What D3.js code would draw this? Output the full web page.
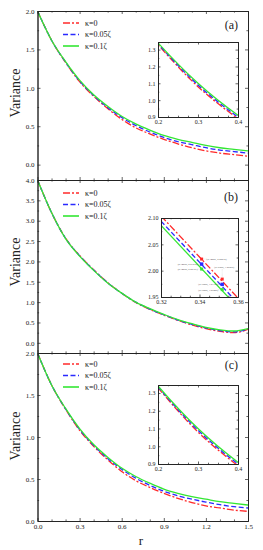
<!DOCTYPE html>
<html>
<head>
<meta charset="utf-8">
<script src="https://cdn.jsdelivr.net/npm/d3@7"></script>
<style>
  body { margin: 0; background: #fff; }
  svg { display: block; font-family: "Liberation Serif", "Times New Roman", serif; }
</style>
</head>
<body>
<svg id="chart"></svg>
<script>
const width = 263;
const height = 550;

// ---- data ----
const rVals = [0, 0.1, 0.2, 0.3, 0.4, 0.5, 0.6, 0.7, 0.8, 0.9, 1.0, 1.1, 1.2, 1.3, 1.4, 1.5];

// panel (a)
const varA_k0   = [2.00, 1.62, 1.33, 1.08, 0.89, 0.73, 0.59, 0.48, 0.40, 0.33, 0.27, 0.22, 0.18, 0.15, 0.13, 0.11];
const varA_k005 = [2.00, 1.62, 1.335, 1.09, 0.90, 0.745, 0.615, 0.51, 0.425, 0.355, 0.30, 0.26, 0.22, 0.19, 0.17, 0.15];
const varA_k01  = [2.00, 1.62, 1.34, 1.10, 0.91, 0.76, 0.63, 0.53, 0.45, 0.38, 0.33, 0.29, 0.25, 0.22, 0.20, 0.18];

// panel (b)
const varB_k0   = [4.00, 3.20, 2.57, 2.145, 1.795, 1.48, 1.22, 0.99, 0.82, 0.68, 0.55, 0.44, 0.35, 0.28, 0.25, 0.33];
const varB_k005 = [4.00, 3.20, 2.565, 2.14, 1.79, 1.475, 1.22, 1.00, 0.83, 0.69, 0.56, 0.455, 0.365, 0.30, 0.27, 0.34];
const varB_k01  = [4.00, 3.20, 2.56, 2.13, 1.78, 1.47, 1.22, 1.00, 0.84, 0.70, 0.57, 0.47, 0.38, 0.32, 0.29, 0.35];

// panel (c)
const varC_k0   = [2.00, 1.62, 1.33, 1.08, 0.89, 0.73, 0.59, 0.48, 0.40, 0.33, 0.27, 0.22, 0.18, 0.155, 0.13, 0.115];
const varC_k005 = [2.00, 1.62, 1.335, 1.09, 0.90, 0.745, 0.615, 0.51, 0.425, 0.355, 0.30, 0.26, 0.225, 0.195, 0.17, 0.155];
const varC_k01  = [2.00, 1.62, 1.34, 1.10, 0.91, 0.76, 0.63, 0.53, 0.45, 0.38, 0.33, 0.29, 0.26, 0.23, 0.21, 0.19];

// inset of (b): straight segments over r = 0.32 .. 0.36
const insetB_r    = [0.32, 0.36];
const insetB_k0   = [2.104, 1.948];
const insetB_k005 = [2.094, 1.938];
const insetB_k01  = [2.086, 1.930];

// marked points in inset (b)
const markR    = [0.3411, 0.3518];
const mark_k0   = [2.022, 1.984];
const mark_k005 = [2.0125, 1.974];
const mark_k01  = [2.003, 1.964];
const markText_k0   = ["(0.34085, 2.02214)", "(0.35085, 1.98265)"];
const markText_k005 = ["(0.34085, 2.01250)", "(0.35085, 1.97325)"];
const markText_k01  = ["(0.34085, 2.00301)", "(0.35085, 1.96425)"];

const xTicks = [0, 0.3, 0.6, 0.9, 1.2, 1.5];
const yTicksA = [0, 0.5, 1.0, 1.5, 2.0];
const yTicksB = [0, 0.5, 1.0, 1.5, 2.0, 2.5, 3.0, 3.5, 4.0];
const yTicksC = [0, 0.5, 1.0, 1.5, 2.0];
const insetTicksX = [0.2, 0.3, 0.4];
const insetTicksY = [0.9, 1.0, 1.1, 1.2, 1.3];
const insetBTicksX = [0.32, 0.34, 0.36];
const insetBTicksY = [1.95, 2.00, 2.05, 2.10];

const legendLabels = ["κ=0", "κ=0.05ζ", "κ=0.1ζ"];
const panelLabels = ["(a)", "(b)", "(c)"];

const colors = ["#ff2a2a", "#2a2aff", "#33e633"];
const dashes = ["7,2,2,2", "5,2.5", null];

const svg = d3.select("#chart")
  .attr("width", width)
  .attr("height", height)
  .attr("viewBox", [0, 0, width, height]);

const x = d3.scaleLinear([0, 1.5], [37.5, 248]);

const panels = [
  {name: "a", y: d3.scaleLinear([-0.2, 2.0], [180, 11]), series: [varA_k0, varA_k005, varA_k01], ticks: yTicksA,
   legendY: 23, labelY: 29, titleY: 93,
   inset: {x: [0.2, 0.4], y: [0.9, 1.345], px: [158, 238], py: [117, 42], tx: insetTicksX, ty: insetTicksY, fmt: ".1f"}},
  {name: "b", y: d3.scaleLinear([-0.25, 4.0], [353, 180]), series: [varB_k0, varB_k005, varB_k01], ticks: yTicksB,
   legendY: 193, labelY: 201, titleY: 262,
   inset: {x: [0.32, 0.36], y: [1.95, 2.10], px: [161, 238], py: [297, 218], tx: insetBTicksX, ty: insetBTicksY, fmt: ".2f"}},
  {name: "c", y: d3.scaleLinear([0, 2.0], [521, 353]), series: [varC_k0, varC_k005, varC_k01], ticks: yTicksC,
   legendY: 364, labelY: 369, titleY: 436,
   inset: {x: [0.2, 0.4], y: [0.9, 1.345], px: [158, 238], py: [464, 385], tx: insetTicksX, ty: insetTicksY, fmt: ".1f"}}
];

// draws ticks on all four sides of a box, inward
function drawBox(g, xs, ys, opt) {
  const [x0, x1] = xs.range();
  const [y0, y1] = ys.range(); // y0 bottom, y1 top
  const f = d3.format(opt.fmt);

  g.append("g").attr("transform", `translate(0,${y0})`)
    .call(d3.axisBottom(xs).tickValues(opt.xt).tickSize(-opt.major).tickSizeOuter(0)
      .tickPadding(opt.pad).tickFormat(opt.showX ? f : ""));
  g.append("g").attr("transform", `translate(0,${y1})`)
    .call(d3.axisTop(xs).tickValues(opt.xt).tickSize(-opt.major).tickSizeOuter(0).tickFormat(""));
  g.append("g").attr("transform", `translate(${x0},0)`)
    .call(d3.axisLeft(ys).tickValues(opt.yt).tickSize(-opt.major).tickSizeOuter(0)
      .tickPadding(opt.pad).tickFormat(f));
  g.append("g").attr("transform", `translate(${x1},0)`)
    .call(d3.axisRight(ys).tickValues(opt.yt).tickSize(-opt.major).tickSizeOuter(0).tickFormat(""));

  // minor ticks
  g.append("g").attr("transform", `translate(0,${y0})`)
    .call(d3.axisBottom(xs).tickValues(opt.xm).tickSize(-opt.minor).tickSizeOuter(0).tickFormat(""));
  g.append("g").attr("transform", `translate(0,${y1})`)
    .call(d3.axisTop(xs).tickValues(opt.xm).tickSize(-opt.minor).tickSizeOuter(0).tickFormat(""));
  g.append("g").attr("transform", `translate(${x0},0)`)
    .call(d3.axisLeft(ys).tickValues(opt.ym).tickSize(-opt.minor).tickSizeOuter(0).tickFormat(""));
  g.append("g").attr("transform", `translate(${x1},0)`)
    .call(d3.axisRight(ys).tickValues(opt.ym).tickSize(-opt.minor).tickSizeOuter(0).tickFormat(""));

  g.selectAll(".domain").attr("stroke", "#222").attr("stroke-width", 0.9);
  g.selectAll(".tick line").attr("stroke", "#222").attr("stroke-width", 0.7);
  g.selectAll(".tick text")
    .attr("font-family", "Liberation Serif, Times New Roman, serif")
    .attr("font-size", opt.font)
    .attr("fill", "#222");
}

function midPoints(t) {
  const out = [];
  for (let i = 0; i < t.length - 1; i++) out.push((t[i] + t[i + 1]) / 2);
  return out;
}

function drawSeries(g, xs, ys, rs, vals, i, clipId, w) {
  const line = d3.line()
    .x((d, j) => xs(rs[j]))
    .y(d => ys(d))
    .curve(d3.curveMonotoneX);
  g.append("path")
    .datum(vals)
    .attr("clip-path", `url(#${clipId})`)
    .attr("fill", "none")
    .attr("stroke", colors[i])
    .attr("stroke-width", w)
    .attr("stroke-dasharray", dashes[i])
    .attr("d", line);
}

const defs = svg.append("defs");
const xMinor = d3.range(0, 1.51, 0.1).filter(v => Math.abs(v / 0.3 - Math.round(v / 0.3)) > 0.01);

panels.forEach((p, k) => {
  const g = svg.append("g");
  const [yb, yt] = p.y.range();

  defs.append("clipPath").attr("id", "clip-" + p.name)
    .append("rect").attr("x", x.range()[0]).attr("y", yt)
    .attr("width", x.range()[1] - x.range()[0]).attr("height", yb - yt);

  p.series.forEach((s, i) => drawSeries(g, x, p.y, rVals, s, i, "clip-" + p.name, 1.3));

  drawBox(g, x, p.y, {
    xt: xTicks, yt: p.ticks, xm: xMinor, ym: midPoints(p.ticks).concat(p.name === "a" ? [] : []),
    major: 3, minor: 1.6, pad: 3, fmt: ".1f", font: 7, showX: k === 2
  });

  // remove labels that fall on shared edges
  if (k < 2) g.selectAll(".tick text").filter(function () { return this.textContent === ""; }).remove();

  // y title
  g.append("text")
    .attr("transform", `translate(20,${p.titleY}) rotate(-90)`)
    .attr("text-anchor", "middle")
    .attr("font-size", 14)
    .attr("fill", "#222")
    .text("Variance");

  // panel label
  g.append("text")
    .attr("x", 238).attr("y", p.labelY)
    .attr("text-anchor", "end")
    .attr("font-size", 12)
    .attr("fill", "#222")
    .text(panelLabels[k]);

  // legend
  legendLabels.forEach((lab, i) => {
    const ly = p.legendY + i * 11.5;
    g.append("line")
      .attr("x1", 63).attr("x2", 79).attr("y1", ly).attr("y2", ly)
      .attr("stroke", colors[i]).attr("stroke-width", 1.6)
      .attr("stroke-dasharray", dashes[i]);
    g.append("text")
      .attr("x", 85).attr("y", ly + 2.5)
      .attr("font-size", 8)
      .attr("fill", "#222")
      .text(lab);
  });

  // inset
  const ins = p.inset;
  const ix = d3.scaleLinear(ins.x, ins.px);
  const iy = d3.scaleLinear(ins.y, ins.py);
  const ig = svg.append("g");
  ig.append("rect")
    .attr("x", ins.px[0]).attr("y", ins.py[1])
    .attr("width", ins.px[1] - ins.px[0]).attr("height", ins.py[0] - ins.py[1])
    .attr("fill", "#fff");
  defs.append("clipPath").attr("id", "clip-in-" + p.name)
    .append("rect").attr("x", ins.px[0]).attr("y", ins.py[1])
    .attr("width", ins.px[1] - ins.px[0]).attr("height", ins.py[0] - ins.py[1]);

  if (p.name === "b") {
    [insetB_k0, insetB_k005, insetB_k01].forEach((s, i) =>
      drawSeries(ig, ix, iy, insetB_r, s, i, "clip-in-b", 1.3));
  } else {
    p.series.forEach((s, i) => drawSeries(ig, ix, iy, rVals, s, i, "clip-in-" + p.name, 1.3));
  }

  const ixMinor = midPoints(ins.tx);
  const iyMinor = midPoints(ins.ty);
  drawBox(ig, ix, iy, {
    xt: ins.tx, yt: ins.ty, xm: ixMinor.concat(midPoints(ixMinor.concat(ins.tx).sort(d3.ascending))),
    ym: iyMinor, major: 2.5, minor: 1.3, pad: 2.5, fmt: ins.fmt, font: 6, showX: true
  });
  ig.selectAll(".tick text").filter(function () { return this.textContent === ""; }).remove();
});

// marked points in inset (b)
{
  const p = panels[1].inset;
  const ix = d3.scaleLinear(p.x, p.px);
  const iy = d3.scaleLinear(p.y, p.py);
  const mg = svg.append("g");
  const sets = [mark_k0, mark_k005, mark_k01];
  const texts = [markText_k0, markText_k005, markText_k01];
  sets.forEach((vals, i) => {
    vals.forEach((v, j) => {
      const cx = ix(markR[j]), cy = iy(v);
      const s = i === 1 ? 3.4 : 3;
      mg.append("rect")
        .attr("x", cx - s / 2).attr("y", cy - s / 2)
        .attr("width", s).attr("height", s)
        .attr("fill", colors[i]);
      // leader + label
      let tx, ty, anchor;
      if (j === 0 && i === 0) { tx = cx + 5; ty = cy + 1; anchor = "start"; }
      else if (j === 1 && i === 0) { tx = cx + 2; ty = cy - 11; anchor = "middle"; }
      else if (j === 0) { tx = cx - 4; ty = cy + 1; anchor = "end"; }
      else { tx = cx - 4; ty = cy + 1; anchor = "end"; }
      if (j === 1 && i === 0) {
        mg.append("line").attr("x1", cx).attr("x2", cx).attr("y1", cy - 2).attr("y2", ty + 1)
          .attr("stroke", "#999").attr("stroke-width", 0.3).attr("stroke-dasharray", "0.6,0.6");
      } else {
        mg.append("line").attr("x1", anchor === "start" ? cx + 2 : cx - 2).attr("x2", tx)
          .attr("y1", cy).attr("y2", cy)
          .attr("stroke", "#999").attr("stroke-width", 0.3).attr("stroke-dasharray", "0.6,0.6");
      }
      mg.append("text")
        .attr("x", tx).attr("y", ty)
        .attr("text-anchor", anchor)
        .attr("font-size", 2.6)
        .attr("fill", "#555")
        .text(texts[i][j]);
    });
  });
}

// x title
svg.append("text")
  .attr("x", 141).attr("y", 545)
  .attr("text-anchor", "middle")
  .attr("font-size", 13)
  .attr("fill", "#222")
  .text("r");
</script>
</body>
</html>
